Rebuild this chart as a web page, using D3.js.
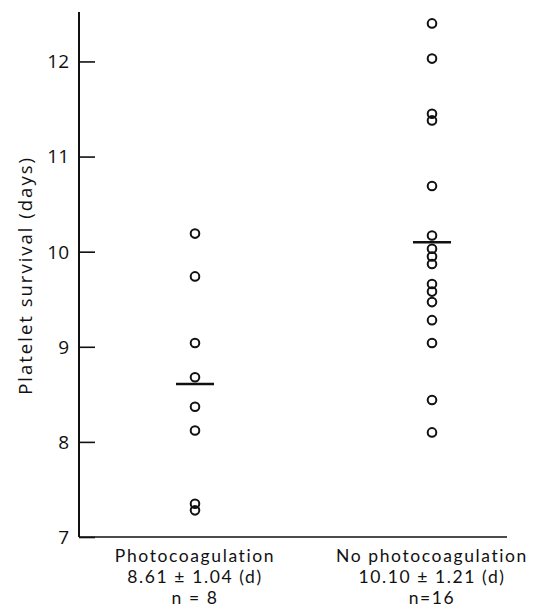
<!DOCTYPE html>
<html>
<head>
<meta charset="utf-8">
<script src="https://cdn.jsdelivr.net/npm/d3@7"></script>
<style>
  body { margin: 0; background: #fff; }
  text { font-family: "Open Sans", "Lato", sans-serif; fill: #111; }
  .glab { font-family: "Lato", "Open Sans", sans-serif; }
</style>
</head>
<body>
<div id="chart"></div>
<script>
// groups shown along the bottom
let groups = ["Photocoagulation", "No photocoagulation"];
let groupStats = ["8.61 \u00b1 1.04 (d)", "10.10 \u00b1 1.21 (d)"];
let groupN = ["n = 8", "n=16"];
let groupMeans = [8.61, 10.10];

// platelet survival (days)
let photoValues = [10.19, 9.74, 9.04, 8.68, 8.37, 8.12, 7.35, 7.28];
let noPhotoValues = [12.40, 12.03, 11.45, 11.38, 10.69, 10.17, 10.03, 9.95,
                     9.87, 9.66, 9.58, 9.47, 9.28, 9.04, 8.44, 8.10];

let yTicks = [7, 8, 9, 10, 11, 12];

let width = 538;
let height = 611;

let svg = d3.select('#chart')
          .append("svg")
          .attr("width", width)
          .attr("height", height);

let yScale = d3.scaleLinear().domain([7, 12.52]).range([537, 12]);
let xScale = d3.scalePoint().domain(groups).range([195, 432]);

let points = [];
photoValues.forEach(function(v){ points.push({ g: groups[0], v: v }); });
noPhotoValues.forEach(function(v){ points.push({ g: groups[1], v: v }); });

// y axis ticks pointing inward (labels drawn separately)
let yAxis = d3.axisRight(yScale).tickValues(yTicks).tickSize(16).tickFormat("");
let ga = svg.append("g")
  .attr("transform", "translate(79,0)")
  .call(yAxis);
ga.select(".domain").remove();
ga.selectAll(".tick line").attr("stroke", "#111").attr("stroke-width", 1.6);

svg.append("line")
  .attr("x1", 79).attr("x2", 79)
  .attr("y1", yScale.range()[1]).attr("y2", yScale(7))
  .attr("stroke", "#111").attr("stroke-width", 2);

svg.append("line")
  .attr("x1", 79).attr("x2", 507)
  .attr("y1", yScale(7)).attr("y2", yScale(7))
  .attr("stroke", "#111").attr("stroke-width", 1.6);

// tick labels
svg.selectAll(".ylab")
  .data(yTicks)
  .enter()
  .append("text")
    .attr("class", "ylab")
    .attr("x", 69)
    .attr("y", function(d){ return yScale(d); })
    .attr("dy", "0.36em")
    .attr("text-anchor", "end")
    .attr("font-size", 19)
    .text(function(d){ return d; });

// axis title
svg.append("text")
  .attr("transform", "translate(32," + yScale(9.75) + ") rotate(-90)")
  .attr("text-anchor", "middle")
  .attr("font-size", 18.5)
  .style("letter-spacing", "2px")
  .text("Platelet survival (days)");

// data circles
svg.selectAll(".pt")
  .data(points)
  .enter()
  .append("circle")
    .attr("class", "pt")
    .attr("cx", function(d){ return xScale(d.g); })
    .attr("cy", function(d){ return yScale(d.v); })
    .attr("r", 4.3)
    .attr("fill", "none")
    .attr("stroke", "#111")
    .attr("stroke-width", 2);

// group means
svg.selectAll(".mean")
  .data(groups)
  .enter()
  .append("line")
    .attr("class", "mean")
    .attr("x1", function(d){ return xScale(d) - 19; })
    .attr("x2", function(d){ return xScale(d) + 19; })
    .attr("y1", function(d, i){ return yScale(groupMeans[i]); })
    .attr("y2", function(d, i){ return yScale(groupMeans[i]); })
    .attr("stroke", "#111")
    .attr("stroke-width", 2.5);

// bottom labels, three lines each (one text per line)
let lines = [groups, groupStats, groupN];
let lineY = [562, 583, 604];

lines.forEach(function(arr, k){
  svg.selectAll(".glab" + k)
    .data(groups)
    .enter()
    .append("text")
      .attr("class", "glab glab" + k)
      .attr("x", function(d){ return xScale(d); })
      .attr("y", lineY[k])
      .attr("text-anchor", "middle")
      .attr("font-size", 17.5)
      .style("letter-spacing", "1.6px")
      .text(function(d, i){ return arr[i]; });
});
</script>
</body>
</html>
